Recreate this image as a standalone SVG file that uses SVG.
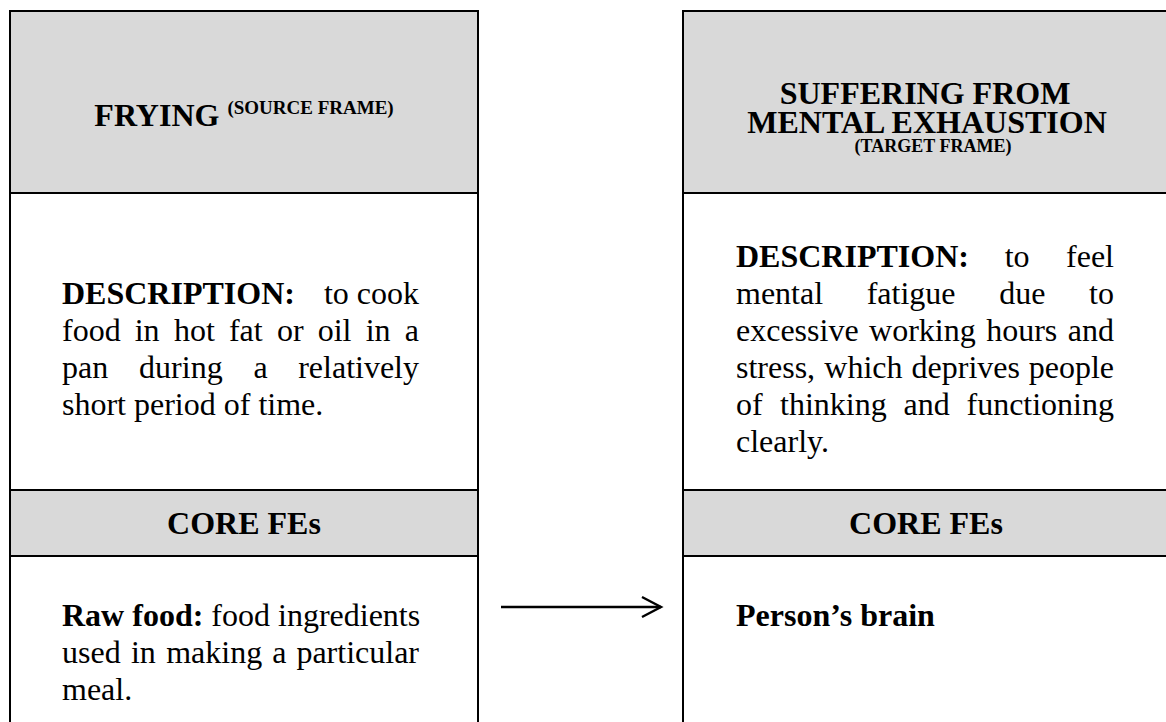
<svg xmlns="http://www.w3.org/2000/svg" width="1166" height="722" viewBox="0 0 1166 722">
  <style>
    .band { fill: #d9d9d9; }
    .rule { stroke: #000; stroke-width: 2; fill: none; }
    .t { font-family: "Liberation Serif", "Times New Roman", serif; font-size: 32px; fill: #000; }
    .b { font-weight: bold; }
    .mid { text-anchor: middle; }
    .sup { font-size: 19px; }
    .small { font-size: 18px; }
  </style>
  <defs>
    <marker id="open-arrow" viewBox="0 0 24 24" refX="21" refY="12" markerWidth="24" markerHeight="24" markerUnits="userSpaceOnUse" orient="auto">
      <path d="M2,2 L21,12 L2,22" fill="none" stroke="#000" stroke-width="2.4" stroke-linejoin="miter"/>
    </marker>
  </defs>
  <rect width="1166" height="722" fill="#fff"/>

  <!-- source frame column -->
  <g id="source-frame">
    <rect class="band" x="10" y="11" width="468" height="182"/>
    <rect class="band" x="10" y="490" width="468" height="66"/>
    <path class="rule" d="M10,730 V11 H478 V730 M10,193 H478 M10,490 H478 M10,556 H478"/>
    <text class="t b mid" x="244" y="126">FRYING <tspan class="sup" dy="-12">(SOURCE FRAME)</tspan></text>
    <text class="t" y="304"><tspan class="b" x="62">DESCRIPTION:</tspan><tspan x="419" text-anchor="end">to cook</tspan></text>
    <text class="t" y="341"><tspan x="62">food</tspan><tspan x="134.7">in</tspan><tspan x="173.9">hot</tspan><tspan x="228.9">fat</tspan><tspan x="276.9">or</tspan><tspan x="317.7">oil</tspan><tspan x="365.7">in</tspan><tspan x="419" text-anchor="end">a</tspan></text>
    <text class="t" y="378"><tspan x="62">pan</tspan><tspan x="139.1">during</tspan><tspan x="253.4">a</tspan><tspan x="419" text-anchor="end">relatively</tspan></text>
    <text class="t" x="62" y="415">short period of time.</text>
    <text class="t b mid" x="244" y="534">CORE FEs</text>
    <text class="t" x="62" y="626"><tspan class="b">Raw food:</tspan> food ingredients</text>
    <text class="t" y="663"><tspan x="62">used</tspan><tspan x="130.9">in</tspan><tspan x="166.2">making</tspan><tspan x="272.3">a</tspan><tspan x="419" text-anchor="end">particular</tspan></text>
    <text class="t" x="62" y="700">meal.</text>
  </g>

  <!-- target frame column -->
  <g id="target-frame">
    <rect class="band" x="683" y="11" width="490" height="182"/>
    <rect class="band" x="683" y="490" width="490" height="66"/>
    <path class="rule" d="M683,730 V11 H1175 M683,193 H1175 M683,490 H1175 M683,556 H1175"/>
    <text class="t b mid" x="925" y="104">SUFFERING FROM</text>
    <text class="t b mid" x="927" y="133">MENTAL EXHAUSTION</text>
    <text class="t b mid small" x="933" y="152">(TARGET FRAME)</text>
    <text class="t" y="267"><tspan class="b" x="736">DESCRIPTION:</tspan><tspan x="1004.7">to</tspan><tspan x="1114" text-anchor="end">feel</tspan></text>
    <text class="t" y="304"><tspan x="736">mental</tspan><tspan x="866.7">fatigue</tspan><tspan x="999.2">due</tspan><tspan x="1114" text-anchor="end">to</tspan></text>
    <text class="t" y="341"><tspan x="736">excessive</tspan><tspan x="869.1">working</tspan><tspan x="986.2">hours</tspan><tspan x="1114" text-anchor="end">and</tspan></text>
    <text class="t" y="378"><tspan x="736">stress,</tspan><tspan x="824.3">which</tspan><tspan x="911.6">deprives</tspan><tspan x="1114" text-anchor="end">people</tspan></text>
    <text class="t" y="415"><tspan x="736">of</tspan><tspan x="780">thinking</tspan><tspan x="903.6">and</tspan><tspan x="1114" text-anchor="end">functioning</tspan></text>
    <text class="t" x="736" y="452">clearly.</text>
    <text class="t b mid" x="926" y="534">CORE FEs</text>
    <text class="t b" x="736" y="626">Person’s brain</text>
  </g>

  <!-- mapping connector -->
  <g id="connectors">
    <line x1="501" y1="607" x2="661" y2="607" stroke="#000" stroke-width="2.4" marker-end="url(#open-arrow)"/>
  </g>
</svg>
